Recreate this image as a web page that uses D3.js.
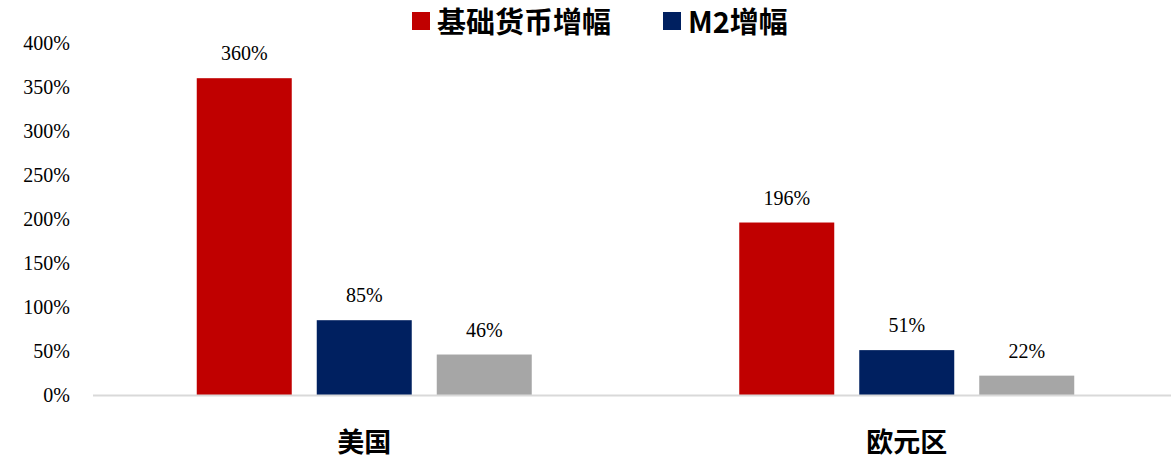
<!DOCTYPE html>
<meta charset="utf-8">
<script src="https://d3js.org/d3.v7.min.js"></script>
<style>
  body { margin: 0; background: #fff; }
</style>
<div id="chart"></div>
<script>
// data
var categories = ["美国", "欧元区"];
var seriesNames = ["基础货币增幅", "M2增幅", "其他"];
var baseMoney = [360, 196];
var m2Growth = [85, 51];
var thirdSeries = [46, 22];
var yTicks = [0, 50, 100, 150, 200, 250, 300, 350, 400];
var legendNames = ["基础货币增幅", "M2增幅"];

var colors = ["#C00000", "#002060", "#A6A6A6"];
var seriesValues = [baseMoney, m2Growth, thirdSeries];

var W = 1171, H = 461;
var serif = "'Liberation Serif', 'Times New Roman', serif";
var cjk = "'Noto Sans CJK SC', sans-serif";

var svg = d3.select("#chart").append("svg")
  .attr("width", W)
  .attr("height", H);

var y = d3.scaleLinear().domain([0, 400]).range([395, 43]);
var x = d3.scaleBand().domain(categories).range([93, 1178]);
var xs = d3.scaleBand().domain(seriesNames).range([0, 335]).paddingInner(25 / 120);

// y axis labels (no line)
var yAxis = svg.append("g")
  .attr("transform", "translate(72,0)")
  .attr("font-family", serif)
  .call(d3.axisLeft(y).tickValues(yTicks).tickSize(0).tickPadding(2)
    .tickFormat(function(d) { return d + "%"; }));
yAxis.attr("font-family", serif).attr("font-size", 20);
yAxis.select(".domain").remove();
yAxis.selectAll("text")
  .style("font-family", serif)
  .style("font-size", "20px")
  .attr("fill", "#000");

// bars
var data = [];
categories.forEach(function(c, i) {
  seriesNames.forEach(function(s, j) {
    data.push({cat: c, series: s, value: seriesValues[j][i], color: colors[j]});
  });
});

function barX(d) { return x(d.cat) + x.bandwidth() / 2 - 167.5 + xs(d.series); }

svg.selectAll("rect.bar")
  .data(data)
  .enter().append("rect")
    .attr("class", "bar")
    .attr("x", barX)
    .attr("y", function(d) { return y(d.value); })
    .attr("width", xs.bandwidth())
    .attr("height", function(d) { return y(0) - y(d.value); })
    .attr("fill", function(d) { return d.color; });

svg.selectAll("text.val")
  .data(data)
  .enter().append("text")
    .attr("class", "val")
    .attr("x", function(d) { return barX(d) + xs.bandwidth() / 2; })
    .attr("y", function(d) { return y(d.value) - 18; })
    .attr("text-anchor", "middle")
    .style("font-family", serif)
    .style("font-size", "20px")
    .attr("fill", "#000")
    .text(function(d) { return d.value + "%"; });

// x axis line
svg.append("line")
  .attr("x1", 93).attr("x2", W)
  .attr("y1", y(0) + 0.5).attr("y2", y(0) + 0.5)
  .attr("stroke", "#D9D9D9")
  .attr("stroke-width", 2);

// category labels
var xAxis = svg.append("g")
  .attr("transform", "translate(0," + y(0) + ")")
  .call(d3.axisBottom(x).tickSize(0).tickPadding(0));
xAxis.select(".domain").remove();
xAxis.selectAll("text")
  .attr("dy", null)
  .attr("y", 57)
  .style("font-family", cjk)
  .style("font-weight", "bold")
  .style("font-size", "27px")
  .attr("fill", "#000");

// legend
var legendX = [412, 663];
var legend = svg.selectAll("g.leg")
  .data(legendNames)
  .enter().append("g")
    .attr("class", "leg")
    .attr("transform", function(d, i) { return "translate(" + legendX[i] + ",0)"; });
legend.append("rect")
  .attr("x", 0).attr("y", 12)
  .attr("width", 18).attr("height", 18)
  .attr("fill", function(d, i) { return colors[i]; });
legend.append("text")
  .attr("x", 25)
  .attr("y", 33)
  .style("font-family", cjk)
  .style("font-weight", "bold")
  .style("font-size", "29px")
  .attr("fill", "#000")
  .text(function(d) { return d; });
</script>
